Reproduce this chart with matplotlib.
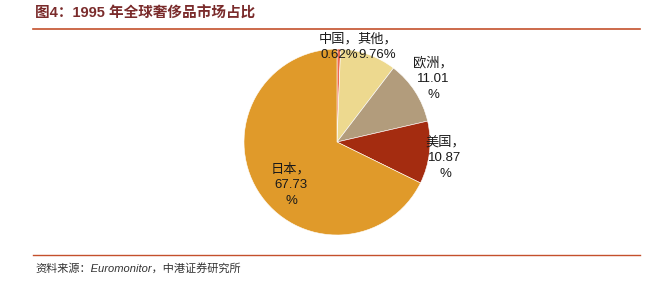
import numpy as np
import matplotlib.pyplot as plt
from matplotlib.lines import Line2D

plt.rcParams['font.family'] = ['Liberation Sans', 'Noto Sans CJK SC', 'DejaVu Sans']

# data, clockwise from 12 o'clock
regions = ['中国', '其他', '欧洲', '美国', '日本']
shares = [0.62, 9.76, 11.01, 10.87, 67.73]
colors = ['#EE6A4E', '#EDD98F', '#B29C7C', '#A42C10', '#E09A2A']

W, H = 655, 281
fig = plt.figure(figsize=(W / 100, H / 100), dpi=100)

# pie axes: centre (337,142) px, radius 93 px
cx, cy, r = 337, 142, 93
ax = fig.add_axes([(cx - r) / W, (H - cy - r) / H, 2 * r / W, 2 * r / H])
wedges, _ = ax.pie(shares, colors=colors, startangle=90, counterclock=False,
                   wedgeprops=dict(linewidth=0.4, edgecolor='white'))
ax.set_xlim(-1, 1)
ax.set_ylim(-1, 1)
ax.set_aspect('auto')
ax.axis('off')

# label positions in pixels (centre x, top y)
label_pos = {
    '中国': (339, 33),
    '其他': (377, 33),
    '欧洲': (433, 57),
    '美国': (445, 136),
    '日本': (291, 163),
}
for name, val in zip(regions, shares):
    px, py = label_pos[name]
    if name in ('中国', '其他'):
        txt = f'{name}，\n{val:.2f}%'
    else:
        txt = f'{name}，\n{val:.2f}\n%'
    fig.text(px / W, 1 - py / H, txt, ha='center', va='top', fontsize=9.5,
             color='#1a1a1a', linespacing=1.4)

# title and source
fig.text(35 / W, 1 - 14 / H, '图4：1995 年全球奢侈品市场占比', ha='left', va='center',
         fontsize=10.5, fontweight='bold', color='#7A2B2B')
fig.add_artist(Line2D([33 / W, 640 / W], [1 - 29 / H, 1 - 29 / H],
                      transform=fig.transFigure, color='#C4502C', lw=1.2))
fig.add_artist(Line2D([33 / W, 640 / W], [1 - 255 / H, 1 - 255 / H],
                      transform=fig.transFigure, color='#C4502C', lw=1.0))
fig.text(35 / W, 1 - 268 / H, '资料来源：Euromonitor，中港证券研究所', ha='left', va='center',
         fontsize=8, fontstyle='italic', color='#333333')

plt.savefig('out.png', dpi=100)
